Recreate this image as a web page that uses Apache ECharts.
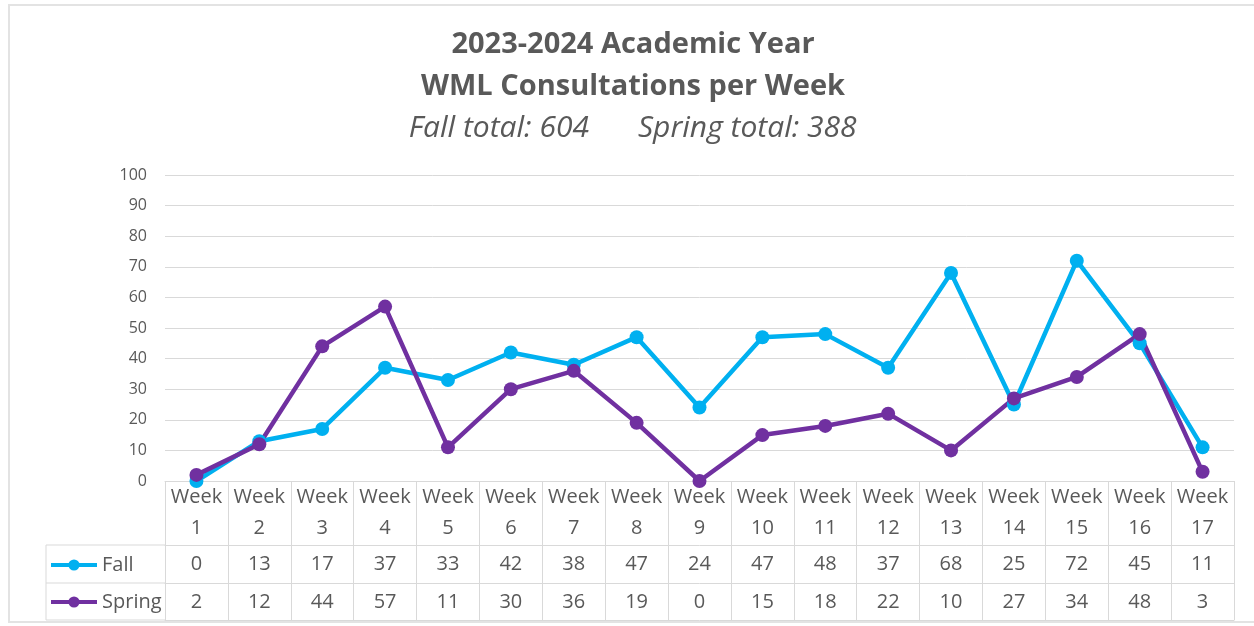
<!DOCTYPE html>
<html>
<head>
<meta charset="utf-8">
<script src="https://cdn.jsdelivr.net/npm/echarts@6/dist/echarts.min.js"></script>
<style>html,body{margin:0;padding:0;background:#fff}#c{width:1254px;height:626px}</style>
</head>
<body>
<div id="c"></div>
<script>
const weeks = [1,2,3,4,5,6,7,8,9,10,11,12,13,14,15,16,17];
const fall = [0,13,17,37,33,42,38,47,24,47,48,37,68,25,72,45,11];
const spring = [2,12,44,57,11,30,36,19,0,15,18,22,10,27,34,48,3];
const yTicks = [0,10,20,30,40,50,60,70,80,90,100];
const titleLines = ['2023-2024 Academic Year', 'WML Consultations per Week'];

const FONT = 'Open Sans';
const TXT = '#595959';
const LINE = '#d9d9d9';
const sum = a => a.reduce((s, v) => s + v, 0);

const chart = echarts.init(document.getElementById('c'), null, {renderer: 'canvas'});

const gridLeft = 165, gridRight = 20, gridTop = 175, gridBottom = 145;

function rowAxis(offset, values, show) {
  return {
    type: 'category', gridIndex: 0, position: 'bottom', offset: offset,
    data: weeks.map(String),
    axisLine: {show: true, onZero: false, lineStyle: {color: LINE, width: 1}},
    axisTick: {show: false},
    splitLine: {show: false},
    axisLabel: {show: show, interval: 0, margin: 9, fontFamily: FONT, fontSize: 20, color: TXT,
      formatter: (v, i) => values ? String(values[i]) : ''}
  };
}

function legendRow(name, top) {
  return {
    orient: 'horizontal', left: 49, top: top, itemWidth: 46, itemHeight: 14, itemGap: 0,
    padding: 0,
    textStyle: {fontFamily: FONT, fontSize: 20, color: TXT},
    lineStyle: {width: 4},
    data: [name]
  };
}

chart.setOption({
  animation: false,
  backgroundColor: '#fff',
  grid: {left: gridLeft, right: gridRight, top: gridTop, bottom: gridBottom, containLabel: false},
  xAxis: [
    {
      type: 'category', data: weeks.map(w => 'Week\n' + w), boundaryGap: true, position: 'bottom',
      axisLine: {show: true, onZero: false, lineStyle: {color: LINE, width: 1}},
      axisTick: {show: true, interval: 0, length: 139, lineStyle: {color: LINE, width: 1}},
      splitLine: {show: false},
      axisLabel: {interval: 0, margin: 1, fontFamily: FONT, fontSize: 20, lineHeight: 31, color: TXT}
    },
    rowAxis(64, fall, true),
    rowAxis(102, spring, true),
    rowAxis(139, null, false)
  ],
  yAxis: {
    type: 'value', min: 0, max: 100, interval: 10,
    axisLine: {show: false}, axisTick: {show: false},
    splitLine: {lineStyle: {color: LINE, width: 1}},
    axisLabel: {margin: 18, fontFamily: FONT, fontSize: 16, color: TXT,
      formatter: v => yTicks.includes(v) ? String(v) : ''}
  },
  legend: [legendRow('Fall', 555), legendRow('Spring', 592)],
  series: [
    {name: 'Fall', type: 'line', data: fall, xAxisIndex: 0, symbol: 'circle', symbolSize: 14,
      lineStyle: {color: '#00B0F0', width: 4.5}, itemStyle: {color: '#00B0F0'}},
    {name: 'Spring', type: 'line', data: spring, xAxisIndex: 0, symbol: 'circle', symbolSize: 14,
      lineStyle: {color: '#7030A0', width: 4.5}, itemStyle: {color: '#7030A0'}}
  ],
  graphic: [
    {type: 'rect', silent: true, shape: {x: 9, y: 5, width: 1260, height: 617},
      style: {fill: null, stroke: '#e3e3e3', lineWidth: 2}},
    {type: 'line', silent: true, shape: {x1: 46, y1: 545, x2: 165, y2: 545}, style: {stroke: LINE, lineWidth: 1}},
    {type: 'line', silent: true, shape: {x1: 46, y1: 583, x2: 165, y2: 583}, style: {stroke: LINE, lineWidth: 1}},
    {type: 'line', silent: true, shape: {x1: 46, y1: 620, x2: 165, y2: 620}, style: {stroke: LINE, lineWidth: 1}},
    {type: 'line', silent: true, shape: {x1: 46, y1: 545, x2: 46, y2: 620}, style: {stroke: LINE, lineWidth: 1}},
    {type: 'text', x: 633, y: 45, style: {text: titleLines[0], align: 'center', verticalAlign: 'middle', fontFamily: FONT, fontWeight: 'bold', fontSize: 29, fill: TXT}},
    {type: 'text', x: 633, y: 87, style: {text: titleLines[1], align: 'center', verticalAlign: 'middle', fontFamily: FONT, fontWeight: 'bold', fontSize: 29, fill: TXT}},
    {type: 'text', x: 589, y: 128, style: {text: 'Fall total: ' + sum(fall), align: 'right', verticalAlign: 'middle', fontFamily: FONT, fontStyle: 'italic', fontSize: 30, fill: TXT}},
    {type: 'text', x: 638, y: 128, style: {text: 'Spring total: ' + sum(spring), align: 'left', verticalAlign: 'middle', fontFamily: FONT, fontStyle: 'italic', fontSize: 30, fill: TXT}}
  ]
});
</script>
</body>
</html>
